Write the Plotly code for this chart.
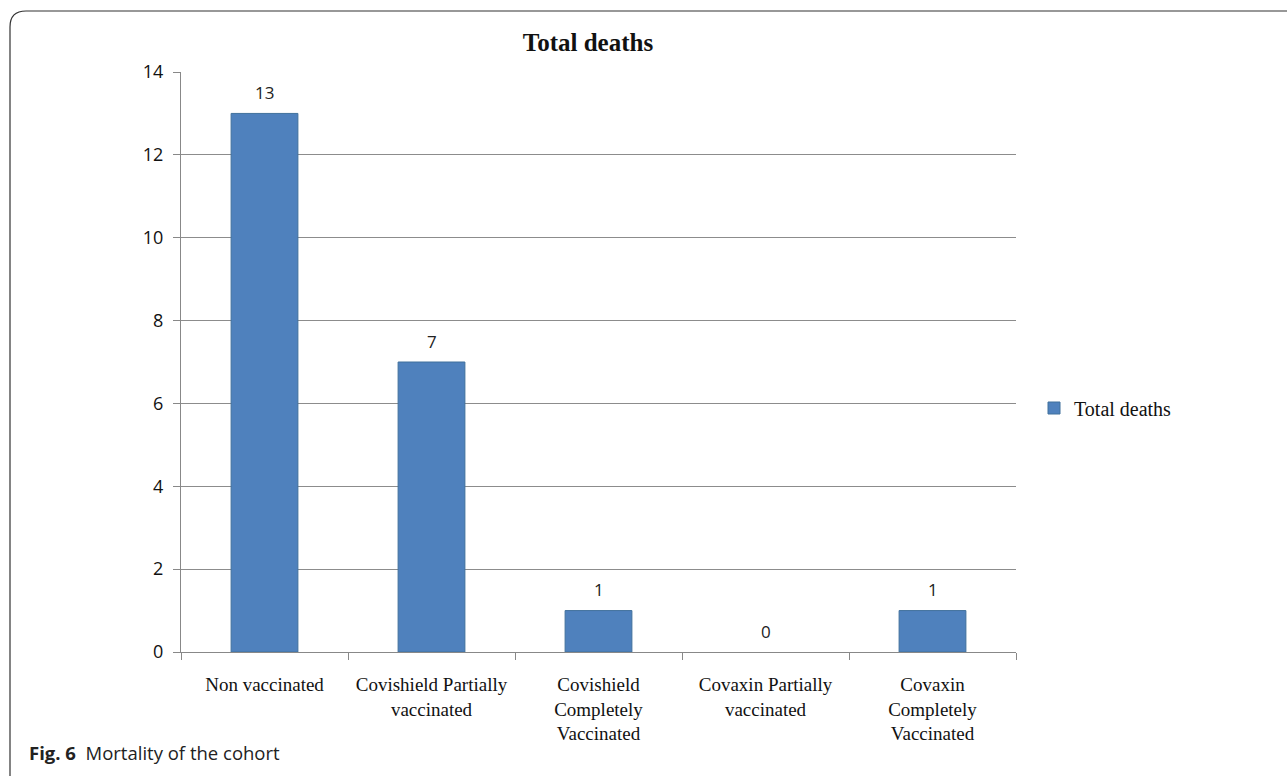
import plotly.graph_objects as go

categories = ["Non vaccinated", "Covishield Partially<br>vaccinated", "Covishield<br>Completely<br>Vaccinated",
              "Covaxin Partially<br>vaccinated", "Covaxin<br>Completely<br>Vaccinated"]
deaths = [13, 7, 1, 0, 1]
y_ticks = [0, 2, 4, 6, 8, 10, 12, 14]
series_name = "Total deaths"

L, R, T, B = 181, 1016, 72, 652
W, H = 1287, 776
pw, ph = R - L, B - T

def px(x):
    return (x - L) / pw

def py(y):
    return (B - y) / ph

fig = go.Figure()
fig.add_trace(go.Bar(
    x=categories, y=deaths, name=series_name,
    marker=dict(color="#4F81BD", line=dict(color="#41719C", width=[1 if v > 0 else 0 for v in deaths])),
    width=0.4, showlegend=True,
))

annotations = []
for c, v in zip(categories, deaths):
    annotations.append(dict(x=c, y=v, xref="x", yref="y", text=str(v), showarrow=False,
                            yshift=21, font=dict(family="Open Sans", size=17, color="#222")))
annotations.append(dict(x=px(27), y=py(752), xref="paper", yref="paper", xanchor="left", yanchor="middle",
                        text="<b>Fig. 6</b>  Mortality of the cohort", showarrow=False,
                        font=dict(family="Open Sans", size=18.5, color="#222")))

r = 16
x0, y0 = 10, 11
path = (f"M {px(x0)},{py(790)} L {px(x0)},{py(y0 + r)} "
        f"Q {px(x0)},{py(y0)} {px(x0 + r)},{py(y0)} L {px(1300)},{py(y0)}")

fig.update_layout(
    width=W, height=H,
    margin=dict(l=L, r=W - R, t=T, b=H - B, autoexpand=False),
    paper_bgcolor="white", plot_bgcolor="white",
    title=dict(text="<b>Total deaths</b>", x=px(588), xanchor="center", xref="paper",
               y=1 - 42 / H, yanchor="middle", yref="container",
               font=dict(family="Liberation Serif", size=25, color="#111")),
    xaxis=dict(type="category", range=[-0.5, 4.5], tickson="boundaries", ticks="outside",
               ticklen=7, tickcolor="#888", showline=True, linecolor="#888", linewidth=1,
               showgrid=False, ticklabelstandoff=15, tickangle=0, automargin=False,
               tickfont=dict(family="Liberation Serif", size=19, color="#111")),
    yaxis=dict(range=[0, 14], tickvals=y_ticks, ticks="outside", ticklen=7, tickcolor="#888",
               showline=True, linecolor="#888", linewidth=1, showgrid=True, gridcolor="#8c8c8c",
               gridwidth=1, zeroline=False, ticklabelstandoff=6, automargin=False,
               tickfont=dict(family="Open Sans", size=18, color="#111")),
    legend=dict(x=px(1034), y=py(408), xanchor="left", yanchor="middle",
                font=dict(family="Liberation Serif", size=20, color="#111"),
                itemwidth=30, bgcolor="rgba(0,0,0,0)"),
    annotations=annotations,
    shapes=[dict(type="path", path=path, xref="paper", yref="paper",
                 line=dict(color="#333", width=1.2))],
    bargap=0.6,
)

fig.write_html("out.html")
